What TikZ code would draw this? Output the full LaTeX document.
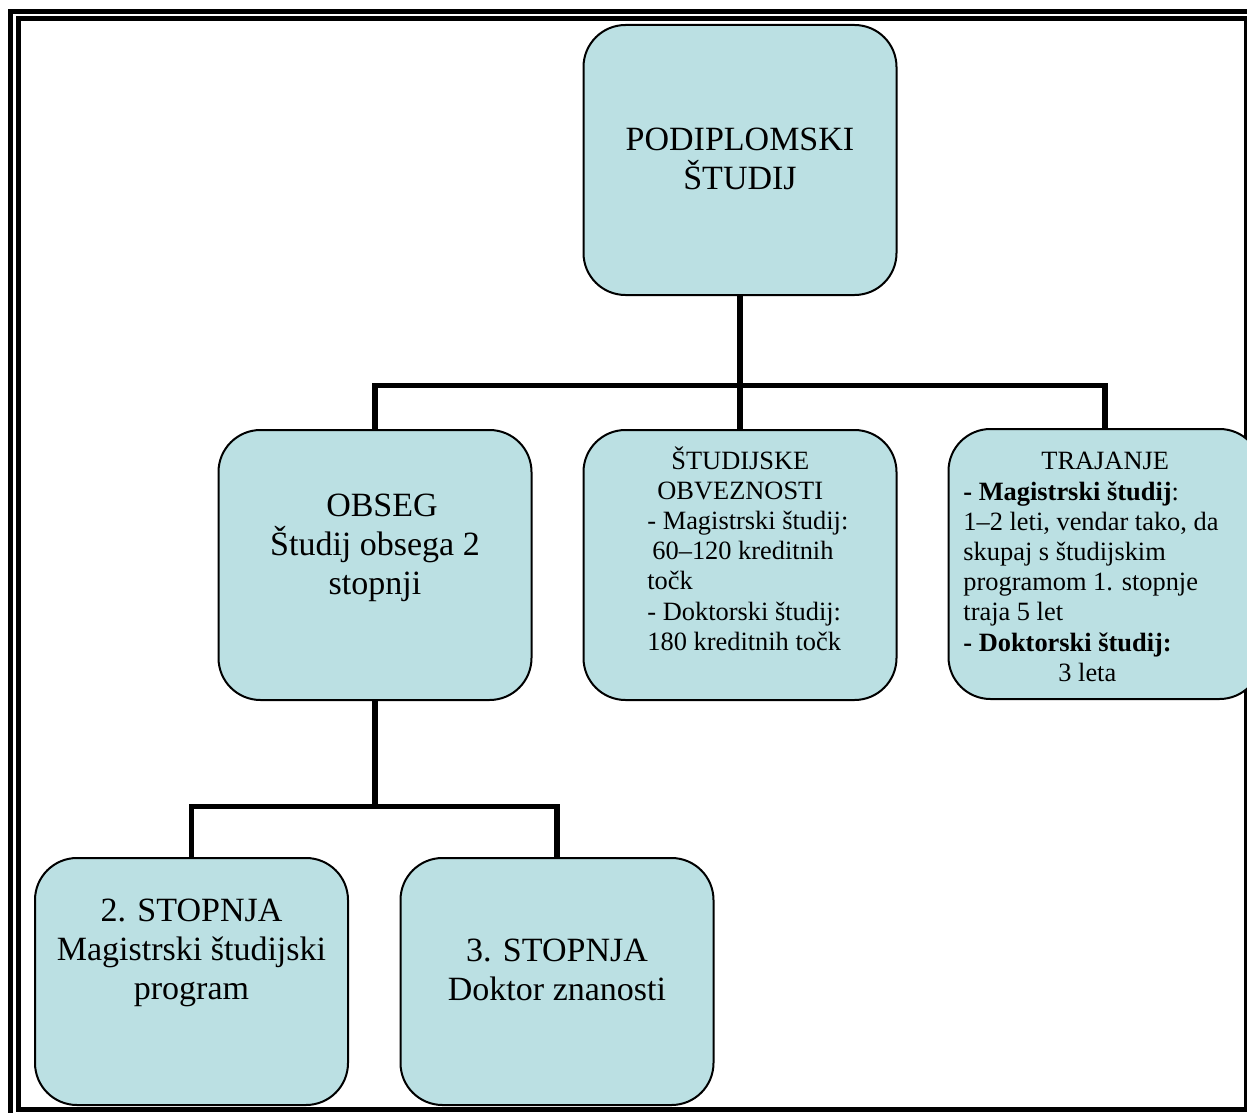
\documentclass[tikz,border=0pt]{standalone}
\usepackage{fontspec}
\setmainfont{Liberation Serif}
\definecolor{boxfill}{RGB}{187,224,227}
\begin{document}
\begin{tikzpicture}[x=0.5pt, y=-0.5pt,
  box/.style={draw=black, fill=boxfill, line width=1pt, rounded corners=21pt,
    minimum width=156.5pt, minimum height=135pt, inner sep=0pt},
  lowbox/.style={box, minimum height=123.5pt},
  big/.style={inner sep=0pt, align=center, font=\fontsize{17}{19.3}\selectfont},
  small/.style={inner sep=0pt, align=left, font=\fontsize{13.2}{15.1}\selectfont},
  conn/.style={line width=2.75pt},
  frame/.style={line width=2.5pt}]
  \useasboundingbox (0,0) rectangle (1247,1113);
  \clip (0,0) rectangle (1247,1113);

  \draw[frame] (10.5,11.5) rectangle (1254.5,1117.5);
  \draw[frame] (18.5,18.5) rectangle (1246.5,1109.5);

  \node[box] (top) at (740, 160) {};
  \node[box] (obseg) at (375, 565) {};
  \node[box] (obvez) at (740, 565) {};
  \node[box] (trajanje) at (1105, 564) {};
  \node[lowbox] (stop2) at (191.5, 981.5) {};
  \node[lowbox] (stop3) at (557, 981.5) {};

  \coordinate (bus1) at (740, 385.5);
  \coordinate (bus2) at (375, 806.5);
  \draw[conn] (top.south) -- (obvez.north);
  \draw[conn] (obseg.north) |- (bus1) -| (trajanje.north);
  \draw[conn] (obseg.south) -- (bus2);
  \draw[conn] (stop2.north) |- (bus2) -| (stop3.north);

  \node[big, anchor=north] (toptext) at (740, 128) {PODIPLOMSKI\\ŠTUDIJ};
  \node[big, anchor=north] (obsegtext) at (375, 494) {\hspace*{7pt}OBSEG\\Študij obsega 2\\stopnji};
  \node[small, anchor=north west] (obveztext) at (647, 446)
    {\hspace*{12pt}ŠTUDIJSKE\\\hspace*{5pt}OBVEZNOSTI\\- Magistrski študij:\\\hspace*{2.5pt}60–120 kreditnih\\točk\\- Doktorski študij:\\180 kreditnih točk};
  \node[small, anchor=north west] (trajanjetext) at (963, 452)
    {\hspace*{39pt}TRAJANJE\\\textbf{- Magistrski študij}:\\1–2 leti, vendar tako, da\\skupaj s študijskim\\programom 1. stopnje\\traja 5 let\\\textbf{- Doktorski študij:}\\\hspace*{47.5pt}3 leta};
  \node[big, anchor=north] (stop2text) at (191.5, 899) {2. STOPNJA\\Magistrski študijski\\program};
  \node[big, anchor=north] (stop3text) at (557, 939) {3. STOPNJA\\Doktor znanosti};
  %\draw[conn] (obvez.south) -- ++(0,40);
\end{tikzpicture}
\end{document}
